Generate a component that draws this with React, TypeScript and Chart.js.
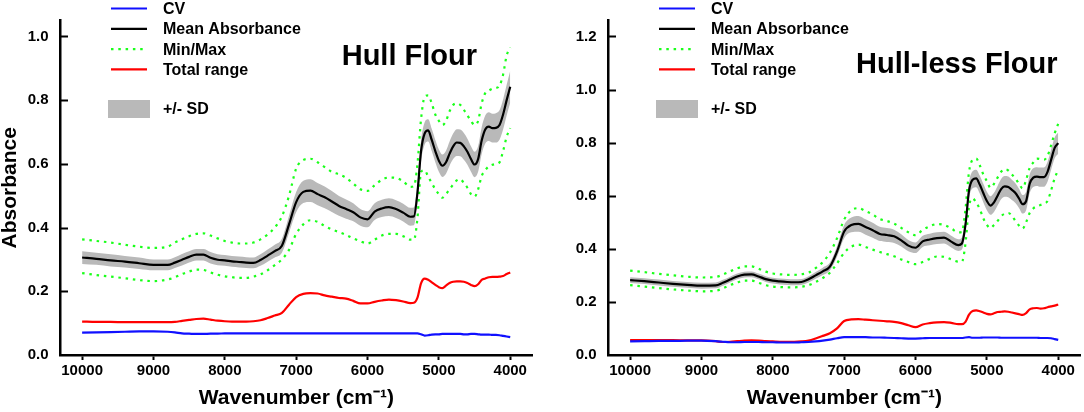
import { useEffect, useRef } from "react"
import { Chart, registerables } from "chart.js"

Chart.register(...registerables)

Chart.defaults.font.family = '"Liberation Sans", Arial, sans-serif'
Chart.defaults.color = "#000"

const wavenumbers = [
  10000, 9800, 9600, 9400, 9200, 9000, 8800, 8700, 8600, 8500, 8400, 8300, 8200, 8100, 8000, 7900, 7800, 7700,
  7600, 7500, 7400, 7300, 7200, 7100, 7000, 6900, 6800, 6700, 6600, 6500, 6400, 6300, 6200, 6100, 6000, 5900,
  5800, 5700, 5600, 5500, 5400, 5350, 5300, 5250, 5200, 5150, 5100, 5050, 5000, 4950, 4900, 4850, 4800, 4750,
  4700, 4650, 4600, 4550, 4500, 4450, 4400, 4350, 4300, 4250, 4200, 4150, 4100, 4050, 4000,
]

const xTicks = [10000, 9000, 8000, 7000, 6000, 5000, 4000]

// Hull flour
const hullMean = [
  0.306, 0.302, 0.297, 0.293, 0.288, 0.283, 0.283, 0.29, 0.299, 0.308, 0.315, 0.315, 0.305, 0.299, 0.297, 0.294,
  0.292, 0.29, 0.289, 0.298, 0.312, 0.326, 0.343, 0.41, 0.48, 0.512, 0.516, 0.505, 0.495, 0.482, 0.468, 0.458,
  0.448, 0.432, 0.426, 0.45, 0.46, 0.464, 0.458, 0.447, 0.434, 0.435, 0.51, 0.64, 0.695, 0.705, 0.675, 0.64,
  0.61, 0.594, 0.605, 0.632, 0.655, 0.667, 0.666, 0.655, 0.638, 0.615, 0.598, 0.615, 0.673, 0.708, 0.717,
  0.712, 0.713, 0.722, 0.755, 0.8, 0.842,
]
const hullSd = [
  0.02, 0.019, 0.019, 0.018, 0.018, 0.017, 0.017, 0.017, 0.018, 0.018, 0.018, 0.018, 0.018, 0.017, 0.017,
  0.017, 0.017, 0.017, 0.017, 0.018, 0.019, 0.02, 0.022, 0.027, 0.032, 0.035, 0.036, 0.035, 0.034, 0.033,
  0.031, 0.03, 0.028, 0.026, 0.025, 0.026, 0.027, 0.028, 0.028, 0.028, 0.028, 0.028, 0.03, 0.033, 0.035,
  0.035, 0.035, 0.035, 0.035, 0.035, 0.036, 0.038, 0.04, 0.042, 0.042, 0.042, 0.041, 0.04, 0.04, 0.04, 0.042,
  0.044, 0.045, 0.045, 0.046, 0.046, 0.047, 0.048, 0.05,
]
const hullMax = [
  0.363, 0.358, 0.353, 0.346, 0.34, 0.336, 0.34, 0.353, 0.363, 0.373, 0.38, 0.382, 0.375, 0.366, 0.358, 0.353,
  0.35, 0.35, 0.353, 0.363, 0.378, 0.4, 0.435, 0.5, 0.585, 0.612, 0.616, 0.605, 0.59, 0.575, 0.567, 0.556,
  0.538, 0.52, 0.515, 0.533, 0.55, 0.557, 0.556, 0.545, 0.528, 0.53, 0.6, 0.74, 0.81, 0.815, 0.79, 0.755,
  0.735, 0.722, 0.735, 0.765, 0.785, 0.79, 0.785, 0.77, 0.752, 0.735, 0.722, 0.735, 0.79, 0.822, 0.83, 0.836,
  0.838, 0.845, 0.88, 0.94, 0.965,
]
const hullMin = [
  0.257, 0.251, 0.246, 0.241, 0.235, 0.232, 0.237, 0.244, 0.254, 0.262, 0.268, 0.267, 0.259, 0.252, 0.247,
  0.244, 0.242, 0.242, 0.246, 0.253, 0.266, 0.282, 0.3, 0.33, 0.38, 0.41, 0.423, 0.418, 0.405, 0.394, 0.386,
  0.377, 0.366, 0.357, 0.35, 0.362, 0.375, 0.38, 0.38, 0.373, 0.362, 0.362, 0.43, 0.575, 0.58, 0.56, 0.54,
  0.52, 0.505, 0.494, 0.505, 0.52, 0.535, 0.548, 0.552, 0.54, 0.525, 0.505, 0.497, 0.52, 0.562, 0.58, 0.592,
  0.597, 0.6, 0.605, 0.64, 0.685, 0.712,
]
const hullRange = [
  0.105, 0.104, 0.104, 0.103, 0.103, 0.103, 0.103, 0.104, 0.107, 0.11, 0.113, 0.114, 0.111, 0.108, 0.106,
  0.105, 0.105, 0.105, 0.106, 0.109, 0.116, 0.124, 0.132, 0.158, 0.182, 0.192, 0.194, 0.193, 0.187, 0.183,
  0.179, 0.177, 0.17, 0.162, 0.162, 0.167, 0.171, 0.174, 0.172, 0.168, 0.163, 0.164, 0.18, 0.225, 0.24, 0.236,
  0.228, 0.22, 0.213, 0.21, 0.218, 0.226, 0.23, 0.231, 0.231, 0.23, 0.226, 0.22, 0.216, 0.222, 0.236, 0.24,
  0.244, 0.245, 0.245, 0.246, 0.248, 0.254, 0.259,
]
const hullCv = [
  0.07, 0.071, 0.072, 0.073, 0.074, 0.074, 0.073, 0.071, 0.068, 0.067, 0.066, 0.066, 0.067, 0.067, 0.068, 0.068,
  0.068, 0.068, 0.068, 0.068, 0.068, 0.068, 0.068, 0.068, 0.068, 0.068, 0.068, 0.068, 0.068, 0.068, 0.068,
  0.068, 0.068, 0.068, 0.068, 0.068, 0.068, 0.068, 0.068, 0.068, 0.068, 0.068, 0.068, 0.065, 0.061, 0.062,
  0.064, 0.065, 0.065, 0.066, 0.066, 0.066, 0.066, 0.066, 0.066, 0.065, 0.065, 0.066, 0.066, 0.065, 0.064,
  0.064, 0.064, 0.063, 0.063, 0.062, 0.06, 0.058, 0.056,
]

// Hull-less flour
const hullLessMean = [
  0.282, 0.278, 0.273, 0.268, 0.264, 0.261, 0.262, 0.272, 0.284, 0.296, 0.303, 0.304, 0.296, 0.286, 0.28,
  0.277, 0.275, 0.274, 0.275, 0.285, 0.3, 0.315, 0.333, 0.39, 0.465, 0.49, 0.494, 0.482, 0.47, 0.456, 0.452,
  0.447, 0.432, 0.412, 0.404, 0.428, 0.435, 0.44, 0.442, 0.427, 0.414, 0.42, 0.49, 0.62, 0.66, 0.665, 0.642,
  0.61, 0.58, 0.563, 0.575, 0.6, 0.625, 0.635, 0.633, 0.622, 0.61, 0.59, 0.568, 0.58, 0.645, 0.668, 0.672,
  0.67, 0.67, 0.69, 0.735, 0.78, 0.798,
]
const hullLessSd = [
  0.011, 0.011, 0.011, 0.011, 0.011, 0.011, 0.011, 0.011, 0.011, 0.011, 0.011, 0.011, 0.011, 0.011, 0.011,
  0.011, 0.011, 0.011, 0.011, 0.012, 0.013, 0.014, 0.015, 0.02, 0.025, 0.028, 0.03, 0.029, 0.028, 0.027, 0.026,
  0.025, 0.023, 0.021, 0.02, 0.021, 0.022, 0.022, 0.022, 0.022, 0.022, 0.023, 0.026, 0.03, 0.032, 0.033, 0.034,
  0.035, 0.035, 0.035, 0.036, 0.037, 0.038, 0.039, 0.039, 0.038, 0.037, 0.036, 0.035, 0.035, 0.035, 0.035,
  0.035, 0.036, 0.036, 0.037, 0.038, 0.039, 0.04,
]
const hullLessMax = [
  0.318, 0.312, 0.306, 0.3, 0.295, 0.292, 0.294, 0.303, 0.315, 0.326, 0.334, 0.334, 0.325, 0.314, 0.307, 0.304,
  0.302, 0.302, 0.304, 0.31, 0.327, 0.35, 0.385, 0.44, 0.51, 0.545, 0.553, 0.542, 0.529, 0.512, 0.505, 0.495,
  0.479, 0.462, 0.451, 0.471, 0.485, 0.493, 0.49, 0.477, 0.462, 0.463, 0.55, 0.69, 0.735, 0.74, 0.715, 0.68,
  0.655, 0.63, 0.645, 0.668, 0.69, 0.7, 0.695, 0.68, 0.665, 0.645, 0.628, 0.66, 0.705, 0.725, 0.74, 0.738,
  0.736, 0.75, 0.79, 0.835, 0.871,
]
const hullLessMin = [
  0.263, 0.258, 0.252, 0.247, 0.243, 0.24, 0.242, 0.251, 0.263, 0.273, 0.28, 0.28, 0.272, 0.263, 0.258, 0.256,
  0.255, 0.255, 0.257, 0.263, 0.275, 0.29, 0.31, 0.345, 0.385, 0.408, 0.416, 0.407, 0.397, 0.388, 0.38, 0.372,
  0.36, 0.35, 0.342, 0.35, 0.362, 0.371, 0.37, 0.36, 0.352, 0.352, 0.42, 0.56, 0.59, 0.575, 0.55, 0.515, 0.49,
  0.478, 0.49, 0.505, 0.523, 0.532, 0.535, 0.525, 0.505, 0.488, 0.476, 0.5, 0.535, 0.552, 0.56, 0.565, 0.57,
  0.58, 0.62, 0.665, 0.699,
]
const hullLessRange = [
  0.056, 0.056, 0.056, 0.056, 0.055, 0.055, 0.052, 0.049, 0.05, 0.052, 0.054, 0.055, 0.054, 0.052, 0.051, 0.05,
  0.05, 0.05, 0.051, 0.054, 0.062, 0.072, 0.082, 0.1, 0.128, 0.134, 0.135, 0.133, 0.131, 0.129, 0.127, 0.125,
  0.12, 0.112, 0.105, 0.115, 0.12, 0.123, 0.124, 0.121, 0.116, 0.116, 0.125, 0.152, 0.166, 0.168, 0.165, 0.16,
  0.155, 0.153, 0.157, 0.162, 0.163, 0.164, 0.163, 0.16, 0.157, 0.154, 0.151, 0.158, 0.172, 0.176, 0.177,
  0.175, 0.176, 0.18, 0.183, 0.186, 0.19,
]
const hullLessCv = [
  0.051, 0.052, 0.053, 0.053, 0.054, 0.054, 0.052, 0.05, 0.048, 0.048, 0.049, 0.049, 0.049, 0.048, 0.048, 0.047,
  0.047, 0.047, 0.048, 0.049, 0.051, 0.054, 0.058, 0.063, 0.067, 0.067, 0.067, 0.067, 0.066, 0.066, 0.065,
  0.064, 0.063, 0.062, 0.062, 0.063, 0.064, 0.064, 0.064, 0.064, 0.064, 0.064, 0.066, 0.067, 0.065, 0.065,
  0.065, 0.066, 0.066, 0.066, 0.066, 0.066, 0.065, 0.065, 0.065, 0.065, 0.065, 0.065, 0.065, 0.065, 0.065,
  0.065, 0.065, 0.064, 0.064, 0.064, 0.063, 0.06, 0.057,
]

const legendLabels = ["CV", "Mean Absorbance", "Min/Max", "Total range"]
const bandLabel = "+/- SD"

const BLUE = "#1010ff"
const RED = "#ff0000"
const GREEN = "#1aff1a"
const GRAY = "#b9b9b9"
const FONT = '"Liberation Sans", Arial, sans-serif'

interface Series {
  mean: number[]
  sd: number[]
  max: number[]
  min: number[]
  range: number[]
  cv: number[]
}

interface SpectrumChartProps {
  series: Series
  title: string
  titleX: number
  titleY: number
  yMax: number
  width: number
  showYTitle: boolean
}

const pts = (ys: number[]) => wavenumbers.map((w, i) => ({ x: w, y: ys[i] }))

// legend, title and inward y ticks drawn on the canvas
const decorPlugin = {
  id: "decor",
  afterDraw(chart: any, _args: any, opts: any) {
    const { ctx, chartArea } = chart
    const yScale = chart.scales.y
    const left = chartArea.left
    ctx.save()

    // inward ticks on the y axis
    ctx.strokeStyle = "#000"
    ctx.lineWidth = 2
    yScale.ticks.forEach((t: any) => {
      if (t.value === 0) return
      const py = Math.round(yScale.getPixelForValue(t.value)) + 0.5
      ctx.beginPath()
      ctx.moveTo(left, py)
      ctx.lineTo(left + 8, py)
      ctx.stroke()
    })

    // legend
    const colors = [BLUE, "#000", GREEN, RED]
    ctx.font = `bold 16px ${FONT}`
    ctx.textBaseline = "middle"
    ctx.fillStyle = "#000"
    legendLabels.forEach((label, i) => {
      const ry = 8.5 + i * 20.3
      ctx.strokeStyle = colors[i]
      ctx.lineWidth = 2.2
      ctx.setLineDash(i === 2 ? [2.5, 4.8] : [])
      ctx.beginPath()
      ctx.moveTo(left + 51, ry)
      ctx.lineTo(left + 87, ry)
      ctx.stroke()
      ctx.setLineDash([])
      ctx.fillText(label, left + 103, ry + 1)
    })
    ctx.fillStyle = GRAY
    ctx.fillRect(left + 48, 100, 42, 18)
    ctx.fillStyle = "#000"
    ctx.fillText(bandLabel, left + 103, 110)

    // panel title
    ctx.font = `bold 29px ${FONT}`
    ctx.textBaseline = "alphabetic"
    ctx.fillText(opts.title, opts.titleX, opts.titleY)
    ctx.restore()
  },
}

function SpectrumChart({ series, title, titleX, titleY, yMax, width, showYTitle }: SpectrumChartProps) {
  const chartRef = useRef<HTMLCanvasElement>(null)
  const chartInstance = useRef<Chart | null>(null)

  useEffect(() => {
    if (!chartRef.current) return
    if (chartInstance.current) chartInstance.current.destroy()

    const upper = series.mean.map((m, i) => m + series.sd[i])
    const lower = series.mean.map((m, i) => m - series.sd[i])
    const line = { pointRadius: 0, borderWidth: 2.2, cubicInterpolationMode: "monotone" as const, fill: false }

    const ctx = chartRef.current.getContext("2d")
    if (!ctx) return
    chartInstance.current = new Chart(ctx, {
      type: "line",
      data: {
        datasets: [
          { ...line, label: "Mean Absorbance", data: pts(series.mean), borderColor: "#000" },
          { ...line, label: "CV", data: pts(series.cv), borderColor: BLUE },
          { ...line, label: "Total range", data: pts(series.range), borderColor: RED },
          { ...line, label: "Max", data: pts(series.max), borderColor: GREEN, borderDash: [2.5, 4.8] },
          { ...line, label: "Min", data: pts(series.min), borderColor: GREEN, borderDash: [2.5, 4.8] },
          { ...line, label: "SD upper", data: pts(upper), borderWidth: 0, borderColor: GRAY, backgroundColor: GRAY, fill: "+1" },
          { ...line, label: "SD lower", data: pts(lower), borderWidth: 0, borderColor: GRAY },
        ],
      },
      options: {
        animation: false,
        responsive: true,
        maintainAspectRatio: false,
        layout: { padding: { top: 3, right: width - 532.7, left: 0, bottom: 0 } },
        plugins: {
          legend: { display: false },
          tooltip: { enabled: false },
          decor: { title, titleX, titleY },
        } as any,
        scales: {
          x: {
            type: "linear",
            reverse: true,
            min: 3685,
            max: 10310,
            afterFit: (s: any) => {
              s.height = 57
            },
            afterBuildTicks: (s: any) => {
              s.ticks = xTicks.map((v) => ({ value: v }))
            },
            grid: { drawOnChartArea: false, drawTicks: true, tickLength: 5, tickWidth: 2, tickColor: "#000" },
            border: { display: true, color: "#000", width: 2.5 },
            ticks: {
              font: { size: 15, weight: "bold" },
              padding: 2,
              maxRotation: 0,
              color: "#000",
              callback: (v: any) => String(v),
            },
            title: {
              display: true,
              text: "Wavenumber (cm⁻¹)",
              font: { size: 21, weight: "bold" },
              padding: { top: 0, bottom: 1 },
              color: "#000",
            },
          },
          y: {
            type: "linear",
            min: 0,
            max: yMax,
            afterFit: (s: any) => {
              s.width = 60
            },
            grid: { display: false, drawTicks: false, tickLength: 0 },
            border: { display: true, color: "#000", width: 2.5 },
            ticks: {
              stepSize: 0.2,
              includeBounds: false,
              font: { size: 15, weight: "bold" },
              padding: 11.5,
              color: "#000",
              callback: (v: any) => Number(v).toFixed(1),
            },
            title: {
              display: showYTitle,
              text: "Absorbance",
              font: { size: 21, weight: "bold", lineHeight: 1 },
              padding: { top: 0, bottom: 0 },
              color: "#000",
            },
          },
        },
      },
      plugins: [decorPlugin],
    })

    return () => {
      if (chartInstance.current) {
        chartInstance.current.destroy()
        chartInstance.current = null
      }
    }
  }, [series, title, titleX, titleY, yMax, width, showYTitle])

  return (
    <div style={{ position: "relative", width, height: 412 }}>
      <canvas ref={chartRef} />
    </div>
  )
}

const hullSeries: Series = {
  mean: hullMean,
  sd: hullSd,
  max: hullMax,
  min: hullMin,
  range: hullRange,
  cv: hullCv,
}
const hullLessSeries: Series = {
  mean: hullLessMean,
  sd: hullLessSd,
  max: hullLessMax,
  min: hullLessMin,
  range: hullLessRange,
  cv: hullLessCv,
}

export default function App() {
  return (
    <div
      style={{
        position: "absolute",
        left: 0,
        top: 0,
        width: 1084,
        height: 412,
        overflow: "hidden",
        background: "#fff",
        display: "flex",
      }}
    >
      <SpectrumChart
        series={hullSeries}
        title="Hull Flour"
        titleX={341.7}
        titleY={65}
        yMax={1.05}
        width={548}
        showYTitle={true}
      />
      <SpectrumChart
        series={hullLessSeries}
        title="Hull-less Flour"
        titleX={308}
        titleY={73.3}
        yMax={1.26}
        width={536}
        showYTitle={false}
      />
    </div>
  )
}
